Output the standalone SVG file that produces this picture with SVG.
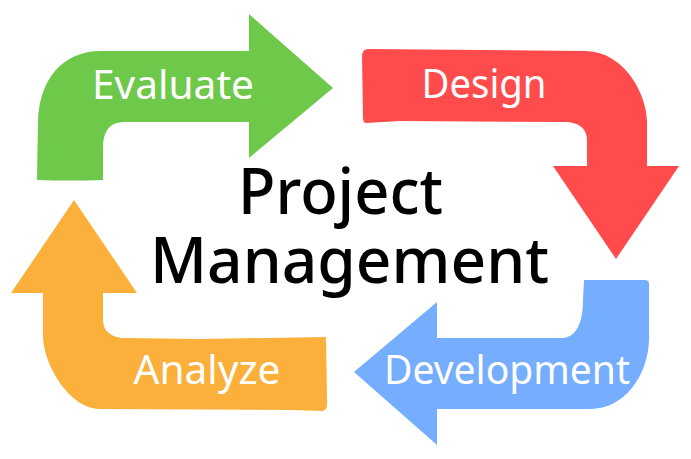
<svg xmlns="http://www.w3.org/2000/svg" width="691" height="459" viewBox="0 0 691 459">
<style>
text{font-family:"Noto Sans","Open Sans",sans-serif;text-anchor:middle}
.l{fill:#fff;font-size:40px;font-weight:400}
.t{fill:#000;font-size:63px;font-weight:500}
</style>
<rect width="691" height="459" fill="#fff"/>
<g id="connectors">
<path id="evaluate-arrow" fill="#6ec84a" d="M37 180 L38 122 C39 80 62 51 101 51 L249 51 L249 14 L333 88 L249 158 L249 122 L125 122 C110 122 104 130 103 146 L103 180 Q70 181 37 180Z"/>
<path id="design-arrow" fill="#ff4b4b" d="M368 49 L586 51 C625 52 647 95 647 122 L647 166 L679 166 L616 259 L553 166 L587 166 L587 140 C587 128 578 122 565 122 L400 121 L366 123 Q363 123 363 118 L362 55 Q363 49 368 49Z"/>
<path id="analyze-arrow" fill="#fbb03b" d="M74 200 L137 293 L103 293 L103 320 C103 332 113 338 125 338 L200 339 L326 337 L327 400 Q328 411 322 411 L290 410 L100 409 C70 409 43 365 43 335 L43 293 L11 293Z"/>
<path id="development-arrow" fill="#75aeff" d="M354 372 L437 302 L437 338 L563 338 C575 337 583 325 583 300 L584 280 L645 280 Q649 280 649 284 L649 340 C648 375 625 409 590 409 L437 409 L437 445Z"/>
</g>
<g id="evaluate"><text class="l" x="173" y="99" textLength="162" lengthAdjust="spacingAndGlyphs">Evaluate</text></g>
<g id="design"><text class="l" x="484" y="98" textLength="125" lengthAdjust="spacingAndGlyphs">Design</text></g>
<g id="analyze"><text class="l" x="207" y="384" textLength="147" lengthAdjust="spacingAndGlyphs">Analyze</text></g>
<g id="development"><text class="l" x="507" y="384" textLength="246" lengthAdjust="spacingAndGlyphs">Development</text></g>
<g id="title"><text class="t" x="340.500" y="214" textLength="205" lengthAdjust="spacingAndGlyphs">Project</text><text class="t" x="349.500" y="283" textLength="399" lengthAdjust="spacingAndGlyphs">Management</text></g>
</svg>
